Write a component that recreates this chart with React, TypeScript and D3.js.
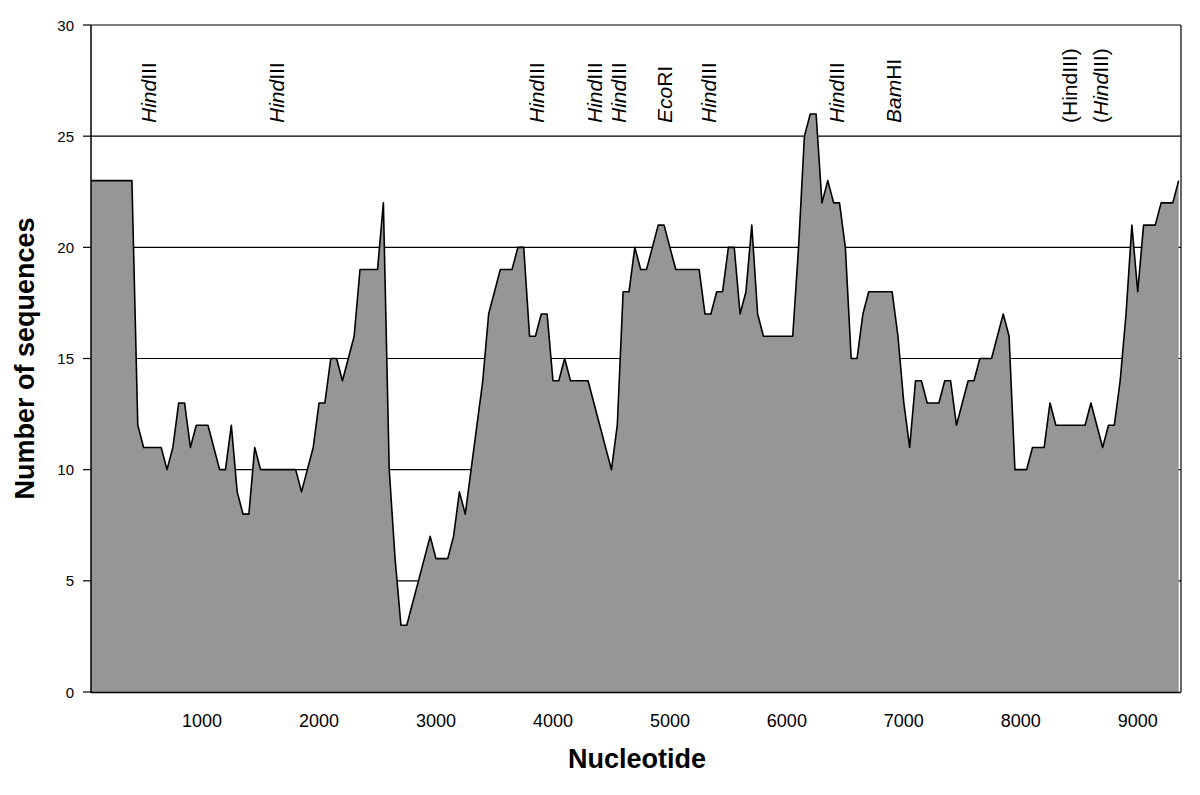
import React from "react";
import * as d3 from "d3";

// window start positions (nt), one every 50
const nucleotides = d3.range(50, 9351, 50);

// number of sequences covering each window
const sequenceCounts = [
  23, 23, 23, 23, 23, 23, 23, 23, 12, 11,
  11, 11, 11, 10, 11, 13, 13, 11, 12, 12,
  12, 11, 10, 10, 12, 9, 8, 8, 11, 10,
  10, 10, 10, 10, 10, 10, 9, 10, 11, 13,
  13, 15, 15, 14, 15, 16, 19, 19, 19, 19,
  22, 10, 6, 3, 3, 4, 5, 6, 7, 6,
  6, 6, 7, 9, 8, 10, 12, 14, 17, 18,
  19, 19, 19, 20, 20, 16, 16, 17, 17, 14,
  14, 15, 14, 14, 14, 14, 13, 12, 11, 10,
  12, 18, 18, 20, 19, 19, 20, 21, 21, 20,
  19, 19, 19, 19, 19, 17, 17, 18, 18, 20,
  20, 17, 18, 21, 17, 16, 16, 16, 16, 16,
  16, 20, 25, 26, 26, 22, 23, 22, 22, 20,
  15, 15, 17, 18, 18, 18, 18, 18, 16, 13,
  11, 14, 14, 13, 13, 13, 14, 14, 12, 13,
  14, 14, 15, 15, 15, 16, 17, 16, 10, 10,
  10, 11, 11, 11, 13, 12, 12, 12, 12, 12,
  12, 13, 12, 11, 12, 12, 14, 17, 21, 18,
  21, 21, 21, 22, 22, 22, 23,
];

const yTicks = [0, 5, 10, 15, 20, 25, 30];
const xTicks = [1000, 2000, 3000, 4000, 5000, 6000, 7000, 8000, 9000];

// restriction sites: position and label pieces [text, italic]
const sitePositions = [540, 1630, 3855, 4350, 4560, 4950, 5325, 6420, 6910, 8410, 8680];
const siteLabels: [string, boolean][][] = [
  [["Hind", true], ["III", false]],
  [["Hind", true], ["III", false]],
  [["Hind", true], ["III", false]],
  [["Hind", true], ["III", false]],
  [["Hind", true], ["III", false]],
  [["Eco", true], ["RI", false]],
  [["Hind", true], ["III", false]],
  [["Hind", true], ["III", false]],
  [["Bam", true], ["HI", false]],
  [["(HindIII)", false]],
  [["(", false], ["Hind", true], ["III)", false]],
];

const W = 1200;
const H = 795;
const left = 91, right = 1181, top = 25, bottom = 692;
const font = "'Liberation Sans', Arial, sans-serif";

export default function App() {
  const x = d3.scaleLinear().domain([50, 9370]).range([left, right]);
  const y = d3.scaleLinear().domain([0, 30]).range([bottom, top]);

  const points = nucleotides.map((n, i) => [n, sequenceCounts[i]] as [number, number]);
  const area = d3.area<[number, number]>()
    .x(d => x(d[0]))
    .y0(y(0))
    .y1(d => y(d[1]));
  const line = d3.line<[number, number]>()
    .x(d => x(d[0]))
    .y(d => y(d[1]));

  return (
    <svg width={W} height={H} style={{ position: "absolute", left: 0, top: 0, background: "#fff" }}
      fontFamily={font}>
      {/* gridlines */}
      {yTicks.filter(t => t > 0 && t < 30).map(t => (
        <line key={t} x1={left} x2={right} y1={y(t)} y2={y(t)} stroke="#000" strokeWidth={1.2} />
      ))}

      <path d={area(points) || ""} fill="#969696" />
      <path d={line(points) || ""} fill="none" stroke="#000" strokeWidth={1.6} strokeLinejoin="round" />

      {/* frame */}
      <line x1={left} x2={right} y1={y(30)} y2={y(30)} stroke="#000" strokeWidth={1.2} />
      <line x1={right} x2={right} y1={y(30)} y2={y(0)} stroke="#000" strokeWidth={1.2} />
      <line x1={left} x2={right} y1={y(0) + 0.5} y2={y(0) + 0.5} stroke="#000" strokeWidth={1.5} />
      <line x1={left} x2={left} y1={y(30)} y2={y(0) + 1} stroke="#000" strokeWidth={1.5} />

      {/* y axis */}
      {yTicks.map(t => (
        <g key={t}>
          <line x1={left - 8} x2={left} y1={y(t)} y2={y(t)} stroke="#000" strokeWidth={1.2} />
          <text x={74} y={y(t) + 5.5} textAnchor="end" fontSize={15} fill="#000">{t}</text>
        </g>
      ))}

      {/* x axis */}
      {xTicks.map(t => (
        <text key={t} x={x(t)} y={727} textAnchor="middle" fontSize={18} fill="#000">{t}</text>
      ))}

      <text x={637} y={768} textAnchor="middle" fontSize={27} fontWeight="bold" fill="#000">Nucleotide</text>
      <text transform={`translate(34,${(top + bottom) / 2}) rotate(-90)`} textAnchor="middle"
        fontSize={27} fontWeight="bold" fill="#000">Number of sequences</text>

      {/* restriction sites */}
      {sitePositions.map((p, i) => {
        const bx = x(p) + 8;
        const by = 123;
        return (
          <text key={i} transform={`translate(${bx},${by}) rotate(-90)`} fontSize={21} fill="#000">
            {siteLabels[i].map(([s, it], j) => (
              <tspan key={j} fontStyle={it ? "italic" : "normal"}>{s}</tspan>
            ))}
          </text>
        );
      })}
    </svg>
  );
}
